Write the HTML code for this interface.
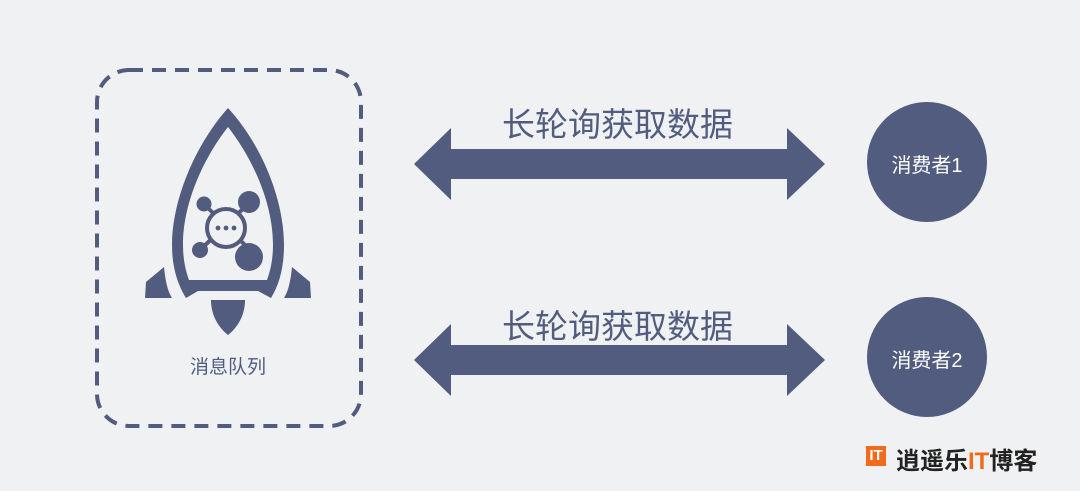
<!DOCTYPE html>
<html><head><meta charset="utf-8"><style>
html,body{margin:0;padding:0;background:#f0f1f3;}
body{width:1080px;height:491px;overflow:hidden;position:relative;font-family:"Liberation Sans","Noto Sans CJK SC",sans-serif;}
.t{position:absolute;color:#525c7e;white-space:nowrap;}
</style></head><body>
<svg width="1080" height="491" style="position:absolute;left:0;top:0">
<rect x="97" y="70" width="264" height="356" rx="32" fill="none" stroke="#525c7e" stroke-width="4" stroke-dasharray="14 9"/>
<g fill="#525c7e">
<path d="M228,108 C195,145 172,200 172,245 C172,268 178,285 186,298 L198,291 L258,291 L271,298 C279,285 284,268 284,245 C284,200 262,145 228,108 Z M228,127 C206,155 183,200 183,245 C183,260 186,272 189,280 L267,280 C270,272 273,260 273,245 C273,200 250,155 228,127 Z" fill-rule="evenodd"/>
<path d="M164,267 L146,282 L145,298 L172,298 C167,290 165,278 164,267 Z"/>
<path d="M292,267 L310,282 L311,298 L284,298 C289,290 291,278 292,267 Z"/>
<path d="M211,300 L245,300 C245,315 238,327 228,335 C218,327 211,315 211,300 Z"/>
<line x1="205" y1="205" x2="250" y2="250" stroke="#525c7e" stroke-width="4"/>
<line x1="248" y1="204" x2="200" y2="250" stroke="#525c7e" stroke-width="4"/>
<circle cx="204" cy="204" r="7.5"/>
<circle cx="249" cy="202" r="11"/>
<circle cx="200" cy="250" r="8"/>
<circle cx="249" cy="257" r="14"/>
<circle cx="226" cy="228" r="19" fill="#f0f1f3" stroke="#525c7e" stroke-width="4"/>
<circle cx="218" cy="228" r="2.4"/><circle cx="226" cy="228" r="2.4"/><circle cx="234" cy="228" r="2.4"/>
<path d="M414,164 L451,128 L451,149 L787,149 L787,128 L825,164 L787,200 L787,179 L451,179 L451,200 Z"/>
<path d="M414,360 L451,324 L451,345 L787,345 L787,324 L825,360 L787,396 L787,375 L451,375 L451,396 Z"/>
<circle cx="927" cy="162" r="60"/>
<circle cx="927" cy="357" r="60"/>
</g>
</svg>
<div class="t" style="left:168px;top:352px;font-size:19px;width:120px;text-align:center;">消息队列</div>
<div class="t" style="left:502px;top:98px;font-size:33px;">长轮询获取数据</div>
<div class="t" style="left:502px;top:300px;font-size:33px;">长轮询获取数据</div>
<div class="t" style="left:867px;top:149px;width:120px;text-align:center;font-size:20px;color:#fff;">消费者1</div>
<div class="t" style="left:867px;top:344px;width:120px;text-align:center;font-size:20px;color:#fff;">消费者2</div>
<div style="position:absolute;left:866px;top:446px;width:20px;height:20px;background:#f26b1d;color:#fff;font:bold 15px 'Liberation Sans',sans-serif;text-align:center;line-height:20px;">IT</div>
<div class="t" style="left:896px;top:441px;font-size:24px;font-weight:bold;color:#222;">逍遥乐<span style="color:#f26b1d">IT</span>博客</div>
</body></html>
